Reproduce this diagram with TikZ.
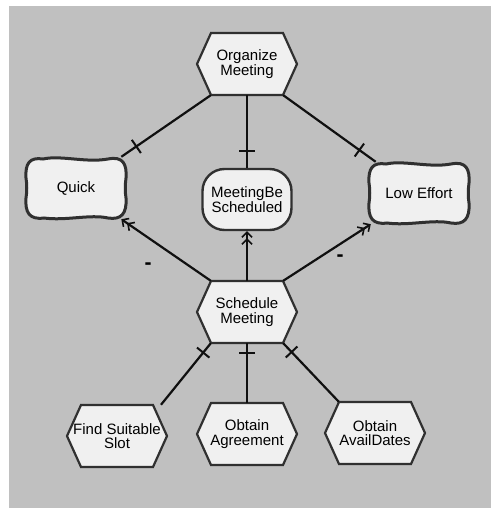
\documentclass[tikz,border=0pt]{standalone}
\usepackage{fontspec}
\setmainfont{Liberation Sans}
\usetikzlibrary{arrows.meta,decorations.markings}

\definecolor{canvas}{HTML}{C0C0C0}
\definecolor{shapefill}{HTML}{F0F0F0}
\definecolor{edgeline}{HTML}{303030}
\definecolor{linkline}{HTML}{101010}

\newcommand\diagfont{\fontsize{15}{14.5}\selectfont}

\tikzset{
  taskshape/.style={fill=shapefill, draw=edgeline, line width=2.2pt, line join=miter},
  tasktext/.style={rectangle, inner sep=0pt, minimum width=72pt, minimum height=62pt,
    align=center, font=\diagfont},
  softshape/.style={fill=shapefill, draw=edgeline, line width=3pt},
  softtext/.style={rectangle, inner sep=0pt, minimum width=102pt, minimum height=62pt,
    align=center, font=\diagfont},
  goalbox/.style={rectangle, rounded corners=22pt, fill=shapefill, draw=edgeline,
    line width=2.4pt, minimum width=89pt, minimum height=61pt, inner sep=0pt,
    align=center, font=\diagfont},
  link/.style={draw=linkline, line width=2.2pt},
  decomp/.style={link, postaction={decorate},
    decoration={markings, mark=at position #1 with
      {\draw[linkline, line width=2pt] (0,-8pt) -- (0,8pt);}}},
  contrib/.style={link, -{Straight Barb[length=5pt,width=10pt,line width=1.6pt]
      Straight Barb[length=5pt,width=10pt,line width=1.6pt]}},
  sign/.style={font=\bfseries\fontsize{21}{21}\selectfont, inner sep=0pt},
}

% task: hexagon with the text node on top
\newcommand\taskhex[4]{%
  \filldraw[taskshape] (#2-50,#3) -- (#2-36,#3-31) -- (#2+36,#3-31) -- (#2+50,#3)
    -- (#2+36,#3+31) -- (#2-36,#3+31) -- cycle;
  \node[tasktext] (#1) at (#2,#3) {#4};}

% softgoal: pillow outline with round corners and hollowed sides, text node on top
\newcommand\softgoal[4]{%
  \filldraw[softshape, shift={(#2,#3)}]
    (-33,-29) .. controls (-15,-33) and (10,-25) .. (32,-29)
    .. controls (47,-32) and (51,-24) .. (50,-10)
    .. controls (49,-3) and (49,4) .. (50,10)
    .. controls (51,26) and (45,32) .. (32,30)
    .. controls (14,26) and (-10,33) .. (-32,30)
    .. controls (-47,32) and (-51,24) .. (-50,10)
    .. controls (-49,4) and (-49,-4) .. (-50,-10)
    .. controls (-51,-25) and (-46,-31) .. (-33,-29) -- cycle;
  \node[softtext] (#1) at (#2,#3) {#4};}

\begin{document}
\begin{tikzpicture}[x=1pt,y=-1pt]
  \useasboundingbox (0,0) rectangle (491,508);
  \fill[canvas] (9,6) rectangle (491,508);

  % elements
  \taskhex{org}{247}{64}{Organize\\Meeting}
  \softgoal{quick}{76}{188}{Quick}
  \node[goalbox] (meet) at (247,199.5) {MeetingBe\\Scheduled};
  \softgoal{low}{419}{193}{Low Effort}
  \taskhex{sch}{247}{312}{Schedule\\Meeting}
  \taskhex{find}{117}{436}{Find Suitable\\Slot}
  \taskhex{agr}{247}{434}{Obtain\\Agreement}
  \taskhex{avail}{375}{433}{Obtain\\AvailDates}

  % decompositions of the top task
  \draw[decomp=-18pt] (org.south west) -- (quick);
  \draw[decomp=-17pt] (org.south) -- (meet);
  \draw[decomp=-20pt] (org.south east) -- (low);

  % contributions of the scheduling task
  \draw[contrib] (sch.north west) -- (quick);
  \draw[contrib] (sch.north) -- (meet);
  \draw[contrib] (sch.north east) -- (low);
  \node[sign] (negq) at (148,266) {-};
  \node[sign] (negl) at (340,258) {-};

  % decompositions of the scheduling task
  \draw[decomp=-12pt] (find.north east) -- (sch.south west);
  \draw[decomp=-10pt] (agr.north) -- (sch.south);
  \draw[decomp=-12pt] (avail.north west) -- (sch.south east);
\end{tikzpicture}
\end{document}
